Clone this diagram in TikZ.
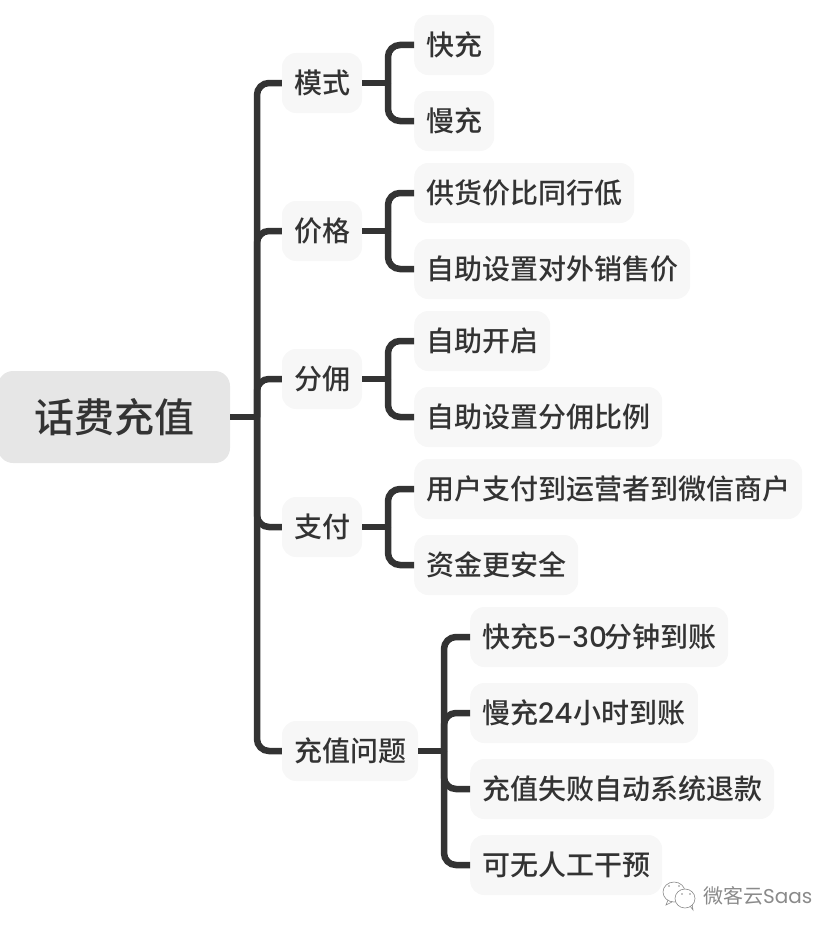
\documentclass[tikz,border=0pt]{standalone}
\usepackage{fontspec}
\setmainfont{Noto Sans CJK SC Medium}
\newfontfamily\markfont{Noto Sans CJK SC}
\newfontfamily\digitfont{Poppins Medium}
\newfontfamily\marklatin{Poppins}
\usetikzlibrary{arrows}

\definecolor{inkdark}{HTML}{333333}
\definecolor{boxlight}{HTML}{F7F7F7}
\definecolor{boxroot}{HTML}{E6E6E6}
\definecolor{markgray}{HTML}{8A8A8A}

\tikzset{
    topic/.style={fill=boxlight, text=inkdark, rounded corners=14pt, inner xsep=12pt, inner ysep=0pt,
        minimum height=60pt, text height=24pt, text depth=3pt, font=\fontsize{28}{34}\selectfont},
    leaf/.style={topic, anchor=west},
    rootbox/.style={fill=boxroot, text=inkdark, rounded corners=15pt, inner sep=0pt,
        minimum width=232pt, minimum height=92pt, font=\fontsize{40}{48}\selectfont},
    branch/.style={draw=inkdark, line width=6.5pt, rounded corners=12pt,
        to path={(\tikztostart) |- (\tikztotarget)}},
    stem/.style={draw=inkdark, line width=6.5pt},
    bubble/.style={draw=markgray, line width=0.6pt, fill=white}
}

\begin{document}
\begin{tikzpicture}[x=1pt, y=-1pt]
    \useasboundingbox (0,0) rectangle (840,934);

    \node[rootbox] (root) at (114,417) {话费充值};

    \node[topic] (mode) at (322,83) {模式};
    \node[topic] (price) at (322,231) {价格};
    \node[topic] (share) at (322,379) {分佣};
    \node[topic] (pay) at (322,527) {支付};
    \node[topic] (issue) at (350,751) {充值问题};

    \node[leaf] (fast) at (414,45) {快充};
    \node[leaf] (slow) at (414,121) {慢充};
    \node[leaf] (low) at (414,193) {供货价比同行低};
    \node[leaf] (setprice) at (414,269) {自助设置对外销售价};
    \node[leaf] (open) at (414,341) {自助开启};
    \node[leaf] (setshare) at (414,417) {自助设置分佣比例};
    \node[leaf] (route) at (414,489) {用户支付到运营者到微信商户};
    \node[leaf] (safe) at (414,565) {资金更安全};
    \node[leaf] (fasttime) at (470,637) {快充{\digitfont 5-30\kern-3pt}分钟到账};
    \node[leaf] (slowtime) at (470,713) {慢充{\digitfont 24\kern1.5pt}小时到账};
    \node[leaf] (refund) at (470,789) {充值失败自动系统退款};
    \node[leaf] (nohand) at (470,865) {可无人工干预};

    \coordinate (hubroot) at (257,417);
    \coordinate (hubmode) at (388,83);
    \coordinate (hubprice) at (388,231);
    \coordinate (hubshare) at (388,379);
    \coordinate (hubpay) at (388,527);
    \coordinate (hubissue) at (444,751);

    \draw[stem] (root.east) -- (hubroot)
          (mode.east) -- (hubmode)
          (price.east) -- (hubprice)
          (share.east) -- (hubshare)
          (pay.east) -- (hubpay)
          (issue.east) -- (hubissue);
    \draw[branch] (hubroot) edge (mode.west)
          (hubroot) edge (price.west)
          (hubroot) edge (share.west)
          (hubroot) edge (pay.west)
          (hubroot) edge (issue.west)
          (hubmode) edge (fast.west)
          (hubmode) edge (slow.west)
          (hubprice) edge (low.west)
          (hubprice) edge (setprice.west)
          (hubshare) edge (open.west)
          (hubshare) edge (setshare.west)
          (hubpay) edge (route.west)
          (hubpay) edge (safe.west)
          (hubissue) edge (fasttime.west)
          (hubissue) edge (slowtime.west)
          (hubissue) edge (refund.west)
          (hubissue) edge (nohand.west);

    % watermark
    \draw[bubble] (668,900) -- (666,905) -- (672,902);
    \draw[bubble] (674,892) ellipse (11 and 10);
    \draw[bubble] (690,906) -- (693,910) -- (692,904);
    \draw[bubble] (685,898.5) ellipse (10 and 9.5);
    \fill[markgray] (669,886) circle (0.9) (679,886) circle (0.9)
          (682,894) circle (0.9) (690,894) circle (0.9);
    \node[text=markgray, inner sep=0pt, anchor=west, font=\fontsize{20}{24}\markfont] (mark) at (703,896) {微客云{\marklatin Saas}};
\end{tikzpicture}
\end{document}
